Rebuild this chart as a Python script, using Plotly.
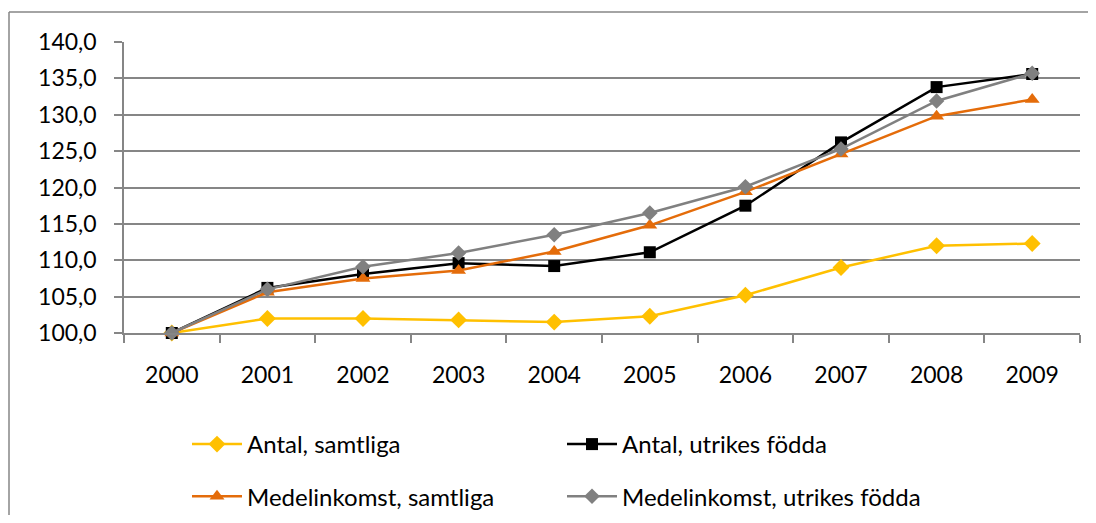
import plotly.graph_objects as go

# Index values (2000 = 100)
years = ["2000", "2001", "2002", "2003", "2004", "2005", "2006", "2007", "2008", "2009"]
antal_samtliga = [100.0, 102.0, 102.0, 101.8, 101.5, 102.3, 105.2, 109.0, 112.0, 112.3]
antal_utrikes = [100.0, 106.2, 108.1, 109.6, 109.2, 111.1, 117.5, 126.2, 133.8, 135.6]
medel_samtliga = [100.0, 105.6, 107.5, 108.6, 111.2, 114.8, 119.4, 124.6, 129.8, 132.1]
medel_utrikes = [100.0, 106.0, 109.1, 111.0, 113.5, 116.5, 120.1, 125.3, 131.9, 135.7]

# the page body adds an 8px margin all round, so the figure is drawn smaller
W, H = 1088, 507
L, T = 116, 34
plot_w, plot_h = 956, 291
R = W - L - plot_w
B = H - T - plot_h

# name, values, colour, marker, size, legend column
series = [
    ("Antal, samtliga", antal_samtliga, "#FFC000", "diamond", 13, "legend"),
    ("Antal, utrikes födda", antal_utrikes, "#000000", "square", 12, "legend2"),
    ("Medelinkomst, samtliga", medel_samtliga, "#E46C0A", "triangle-up", 13, "legend"),
    ("Medelinkomst, utrikes födda", medel_utrikes, "#808080", "diamond", 12, "legend2"),
]

fig = go.Figure()
for name, vals, color, symbol, size, leg in series:
    fig.add_trace(go.Scatter(
        x=years, y=vals, name=name, mode="lines+markers",
        line=dict(color=color, width=2.5),
        marker=dict(color=color, symbol=symbol, size=size),
        cliponaxis=False, legend=leg, legendgroup=name,
    ))

legend_style = dict(
    orientation="v", xref="container", yref="container",
    yanchor="top", xanchor="left", y=1 - 414 / H,
    itemwidth=50, tracegroupgap=18,
    font=dict(size=24), bgcolor="rgba(0,0,0,0)",
)

fig.update_layout(
    width=W, height=H,
    margin=dict(l=L, r=R, t=T, b=B, autoexpand=False),
    plot_bgcolor="#fff", paper_bgcolor="#fff",
    separators=", ",
    font=dict(family="Lato, sans-serif", size=23, color="#000"),
    showlegend=True,
    legend=dict(legend_style, x=179 / W),
    legend2=dict(legend_style, x=554 / W),
)
fig.update_xaxes(
    type="category", showgrid=False, showline=True, linecolor="#868686", linewidth=1.5,
    ticks="outside", tickson="boundaries", ticklen=8, tickcolor="#868686", tickwidth=1.5,
    range=[-0.5, 9.5], ticklabelstandoff=21, automargin=False,
)
fig.update_yaxes(
    range=[100, 140], dtick=5, tickformat=".1f",
    showgrid=True, gridcolor="#868686", gridwidth=1.5,
    showline=True, linecolor="#868686", linewidth=1.5,
    ticks="outside", ticklen=8, tickcolor="#868686", tickwidth=1.5,
    zeroline=False, ticklabelstandoff=13, automargin=False,
)

# outer chart frame: only its left and top edges fall inside the picture
frame_left = (1 - L) / plot_w
frame_top = 1 + (T - 4) / plot_h
frame_line = dict(color="#868686", width=1.5)
fig.add_shape(type="line", xref="paper", yref="paper", layer="below",
              x0=frame_left, x1=frame_left, y0=frame_top, y1=-(B + 5) / plot_h,
              line=frame_line)
fig.add_shape(type="line", xref="paper", yref="paper", layer="below",
              x0=frame_left, x1=(W - L) / plot_w, y0=frame_top, y1=frame_top,
              line=frame_line)

fig.write_html("out.html")
